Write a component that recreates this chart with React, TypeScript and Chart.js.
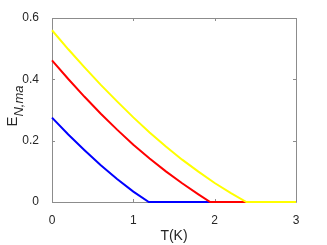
import React, { useEffect, useRef } from "react";
import { Chart, registerables } from "chart.js";

Chart.register(...registerables);

const blueT = [0, 0.2, 0.4, 0.6, 0.8, 1.0, 1.19, 3];
const blueE = [0.275, 0.22, 0.169, 0.12, 0.075, 0.034, 0, 0];

const redT = [0, 0.2, 0.4, 0.6, 0.8, 1.0, 1.2, 1.4, 1.6, 1.8, 1.945, 3];
const redE = [0.462, 0.401, 0.343, 0.288, 0.236, 0.187, 0.142, 0.1, 0.061, 0.025, 0, 0];

const yellowT = [0, 0.2, 0.4, 0.6, 0.8, 1.0, 1.2, 1.4, 1.6, 1.8, 2.0, 2.2, 2.39, 3];
const yellowE = [0.56, 0.498, 0.439, 0.382, 0.328, 0.276, 0.227, 0.181, 0.138, 0.099, 0.062, 0.029, 0, 0];

const xTicks = [0, 1, 2, 3];
const yTicks = [0, 0.2, 0.4, 0.6];

const FONT = "'Liberation Sans', Arial, Helvetica, sans-serif";

const pts = (xs: number[], ys: number[]) => xs.map((x, i) => ({ x, y: ys[i] }));

const framePlugin = {
  id: "matlabFrame",
  beforeDatasetsDraw(chart: any) {
    const { ctx, chartArea } = chart;
    const { left, right, top, bottom } = chartArea;
    const xs = chart.scales.x;
    const ys = chart.scales.y;
    ctx.save();
    ctx.strokeStyle = "#8c8c8c";
    ctx.lineWidth = 1;
    ctx.beginPath();
    ctx.rect(Math.round(left) + 0.5, Math.round(top) + 0.5, Math.round(right - left), Math.round(bottom - top));
    ctx.stroke();
    const tl = 3;
    ctx.beginPath();
    xTicks.forEach((v) => {
      const px = Math.round(xs.getPixelForValue(v)) + 0.5;
      ctx.moveTo(px, bottom);
      ctx.lineTo(px, bottom - tl);
      ctx.moveTo(px, top);
      ctx.lineTo(px, top + tl);
    });
    yTicks.forEach((v) => {
      const py = Math.round(ys.getPixelForValue(v)) + 0.5;
      ctx.moveTo(left, py);
      ctx.lineTo(left + tl, py);
      ctx.moveTo(right, py);
      ctx.lineTo(right - tl, py);
    });
    ctx.stroke();

    // y axis title: E_{N,ma}
    ctx.fillStyle = "#262626";
    ctx.translate(12, 106);
    ctx.rotate(-Math.PI / 2);
    ctx.textBaseline = "alphabetic";
    ctx.font = `15px ${FONT}`;
    const eW = ctx.measureText("E").width;
    ctx.font = `italic 13px ${FONT}`;
    const sW = ctx.measureText("N,ma").width;
    const total = eW + sW;
    ctx.font = `15px ${FONT}`;
    ctx.textAlign = "left";
    ctx.fillText("E", -total / 2, 5);
    ctx.font = `italic 13px ${FONT}`;
    ctx.fillText("N,ma", -total / 2 + eW, 11);
    ctx.restore();
  },
};

export default function App() {
  const ref = useRef<HTMLCanvasElement>(null);
  useEffect(() => {
    if (!ref.current) return;
    const chart = new Chart(ref.current, {
      type: "line",
      data: {
        datasets: [
          { data: pts(yellowT, yellowE), borderColor: "#ffff00", borderWidth: 2, pointRadius: 0, fill: false, tension: 0, clip: 4 },
          { data: pts(redT, redE), borderColor: "#ff0000", borderWidth: 2, pointRadius: 0, fill: false, tension: 0, clip: 4 },
          { data: pts(blueT, blueE), borderColor: "#0000ff", borderWidth: 2, pointRadius: 0, fill: false, tension: 0, clip: 4 },
        ],
      },
      options: {
        animation: false,
        responsive: false,
        events: [],
        layout: { padding: { left: 0, top: 18, right: 31, bottom: 0 } },
        plugins: { legend: { display: false }, tooltip: { enabled: false } },
        scales: {
          x: {
            type: "linear",
            min: 0,
            max: 3,
            afterFit: (s: any) => { s.height = 43; },
            afterBuildTicks: (s: any) => { s.ticks = xTicks.map((v) => ({ value: v })); },
            grid: { display: false },
            border: { display: false },
            title: {
              display: true,
              text: "T(K)",
              color: "#262626",
              font: { family: FONT, size: 14 },
              padding: { top: 0, bottom: 0 },
            },
            ticks: {
              color: "#262626",
              font: { family: FONT, size: 12 },
              padding: 3,
              maxRotation: 0,
              callback: (v: any) => String(v),
            },
          },
          y: {
            type: "linear",
            min: 0,
            max: 0.6,
            afterFit: (s: any) => { s.width = 52; },
            afterBuildTicks: (s: any) => { s.ticks = yTicks.map((v) => ({ value: v })); },
            grid: { display: false },
            border: { display: false },
            ticks: {
              color: "#262626",
              font: { family: FONT, size: 12 },
              padding: 5,
              callback: (v: any) => String(Math.round(v * 10) / 10),
            },
          },
        },
      },
      plugins: [framePlugin],
    });
    return () => chart.destroy();
  }, []);
  return (
    <div style={{ position: "absolute", left: 0, top: 0, width: 327, height: 245, background: "#fff" }}>
      <canvas ref={ref} width={327} height={245} style={{ width: 327, height: 245 }} />
    </div>
  );
}
